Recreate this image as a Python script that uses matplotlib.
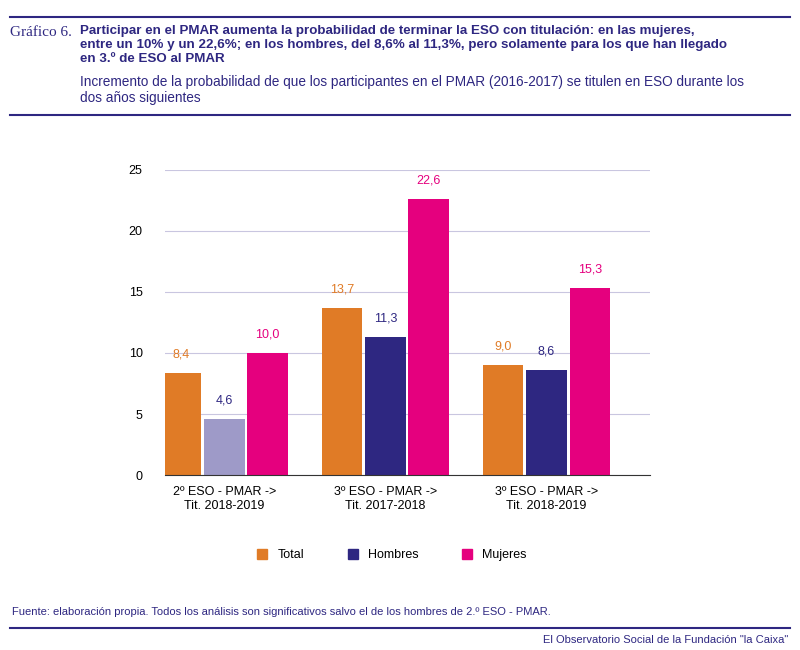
import matplotlib
matplotlib.use("Agg")
import matplotlib.pyplot as plt
from matplotlib.patches import Patch
import numpy as np

categories = ["2º ESO - PMAR ->\nTit. 2018-2019", "3º ESO - PMAR ->\nTit. 2017-2018", "3º ESO - PMAR ->\nTit. 2018-2019"]
total = [8.4, 13.7, 9.0]
hombres = [4.6, 11.3, 8.6]
mujeres = [10.0, 22.6, 15.3]

NAVY = "#2e2781"
ORANGE = "#e07b26"
MAG = "#e5007e"
LIGHT = "#9e9ac8"

plt.rcParams['font.family'] = ['Liberation Sans', 'DejaVu Sans']
fig = plt.figure(figsize=(8, 6.5), dpi=100)
ax = fig.add_axes([0.206, 0.269, 0.606, 0.47])
x = np.arange(3)
w = 0.25
gap = 0.018
hcol = [LIGHT, NAVY, NAVY]
for i in range(3):
    for off, val, col, tcol in [(-w - gap, total[i], ORANGE, ORANGE), (0, hombres[i], hcol[i], NAVY), (w + gap, mujeres[i], MAG, MAG)]:
        ax.bar(x[i] + off, val, w, color=col, zorder=2)
        ax.text(x[i] + off, val + 1.0, f"{val:.1f}".replace(".", ","), ha="center", va="bottom", color=tcol, fontsize=9)
ax.set_ylim(0, 25)
ax.set_xlim(-0.37, 2.64)
ax.set_yticks([0, 5, 10, 15, 20, 25])
ax.yaxis.grid(True, color="#c9c6e0", lw=0.8, zorder=0)
for s in ["top", "right", "left"]:
    ax.spines[s].set_visible(False)
ax.spines["bottom"].set_color("#333333")
ax.tick_params(axis="y", length=0, labelsize=9, pad=16)
ax.tick_params(axis="x", length=0, labelsize=9, pad=8)
ax.set_xticks(x)
ax.set_xticklabels(categories)

fig.legend(handles=[Patch(color=ORANGE, label="Total"), Patch(color=NAVY, label="Hombres"), Patch(color=MAG, label="Mujeres")],
           loc="center", bbox_to_anchor=(0.49, 0.146), ncol=3, frameon=False, fontsize=9,
           handlelength=0.8, handleheight=0.8, columnspacing=3.5)

for yy in [1 - 17/650, 1 - 115/650, 1 - 628/650]:
    fig.add_artist(plt.Line2D([0.0125, 0.9875], [yy, yy], color=NAVY, lw=1.5))
fig.text(0.012, 1 - 33/650, "Gráfico 6.", fontsize=11, color=NAVY, va="center", family=["Liberation Serif", "DejaVu Serif"])
fig.text(0.1, 1 - 25/650, "Participar en el PMAR aumenta la probabilidad de terminar la ESO con titulación: en las mujeres,\nentre un 10% y un 22,6%; en los hombres, del 8,6% al 11,3%, pero solamente para los que han llegado\nen 3.º de ESO al PMAR",
         fontsize=9.6, weight="bold", color=NAVY, va="top", linespacing=1.2)
fig.text(0.1, 1 - 75/650, "Incremento de la probabilidad de que los participantes en el PMAR (2016-2017) se titulen en ESO durante los\ndos años siguientes",
         fontsize=9.8, color=NAVY, va="top", linespacing=1.2)
fig.text(0.015, 1 - 612/650, "Fuente: elaboración propia. Todos los análisis son significativos salvo el de los hombres de 2.º ESO - PMAR.",
         fontsize=8, color=NAVY, va="center")
fig.text(0.985, 1 - 640/650, 'El Observatorio Social de la Fundación "la Caixa"', fontsize=8, color=NAVY, ha="right", va="center")
fig.savefig("out.png", dpi=100)
